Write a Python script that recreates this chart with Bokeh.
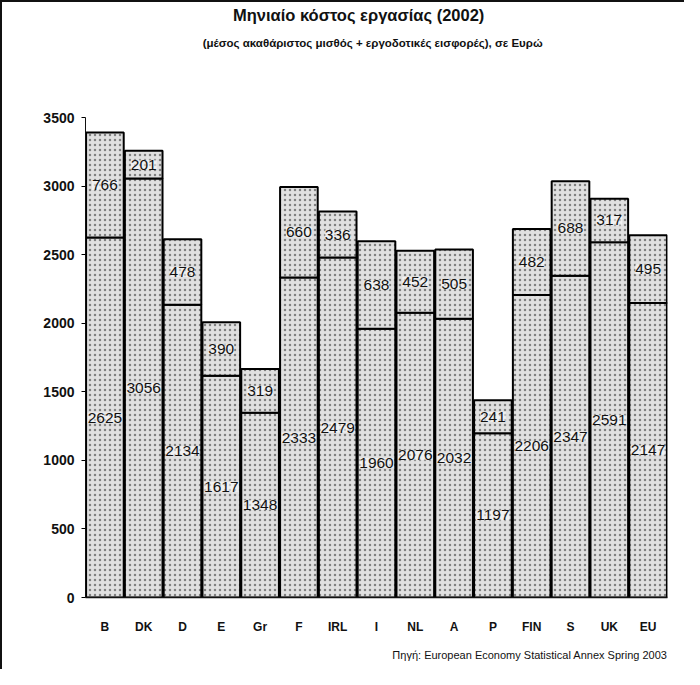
from bokeh.plotting import figure
from bokeh.models import FactorRange, Range1d, ColumnDataSource, Title, FixedTicker
from bokeh.core.properties import value
from bokeh.embed import file_html
from bokeh.resources import INLINE

countries = ["B", "DK", "D", "E", "Gr", "F", "IRL", "I", "NL", "A", "P", "FIN", "S", "UK", "EU"]
gross_wage = [2625, 3056, 2134, 1617, 1348, 2333, 2479, 1960, 2076, 2032, 1197, 2206, 2347, 2591, 2147]
employer_contrib = [766, 201, 478, 390, 319, 660, 336, 638, 452, 505, 241, 482, 688, 317, 495]
y_ticks = [0, 500, 1000, 1500, 2000, 2500, 3000, 3500]

title_text = "Μηνιαίο κόστος εργασίας (2002)"
subtitle_text = "(μέσος ακαθάριστος μισθός + εργοδοτικές εισφορές), σε Ευρώ"
source_text = "Πηγή: European Economy Statistical Annex Spring 2003"

total = [w + c for w, c in zip(gross_wage, employer_contrib)]
src = ColumnDataSource(dict(
    c=countries,
    wage=gross_wage,
    extra=employer_contrib,
    total=total,
    wage_mid=[w / 2 for w in gross_wage],
    extra_mid=[w + c / 2 for w, c in zip(gross_wage, employer_contrib)],
    wage_lbl=[str(w) for w in gross_wage],
    extra_lbl=[str(c) for c in employer_contrib],
))

FONT = "Liberation Sans"

p = figure(x_range=FactorRange(factors=countries, range_padding=0),
           y_range=Range1d(0, 4339),
           width=684, height=669, output_backend="svg", toolbar_location=None,
           min_border_left=83, min_border_right=19, min_border_top=0, min_border_bottom=74)
p.styles = {"border-left": "2px solid #111", "border-top": "2px solid #111"}

common = dict(width=0.97, fill_color="#e0e0e0", line_color="black", line_width=2,
              hatch_pattern="dot", hatch_color="#808080", hatch_scale=5, hatch_weight=1.2)
p.vbar(x="c", bottom=0, top="wage", source=src, **common)
p.vbar(x="c", bottom="wage", top="total", source=src, **common)

lbl = dict(text_font=value(FONT), text_font_size="15.5px", text_color="#111",
           text_align="center", text_baseline="middle",
           background_fill_color="white", background_fill_alpha=0.55)
p.text(x="c", y="wage_mid", text="wage_lbl", source=src, **lbl)
p.text(x="c", y="extra_mid", text="extra_lbl", source=src, **lbl)

p.text(x=[7.04], y=[4251], text=[title_text], text_font=value(FONT), text_font_size="16.5px",
       text_font_style="bold", text_align="center", text_baseline="middle", text_color="#111")
p.text(x=[7.40], y=[4047], text=[subtitle_text], text_font=value(FONT), text_font_size="11.5px",
       text_font_style="bold", text_align="center", text_baseline="middle", text_color="#111")

p.add_layout(Title(text=source_text, align="right", text_font=FONT, text_font_size="11px",
                   text_font_style="normal", text_color="#111", standoff=21), "below")

p.xgrid.grid_line_color = None
p.ygrid.grid_line_color = None
p.outline_line_color = None

p.yaxis.bounds = (0, 3500)
p.yaxis.ticker = FixedTicker(ticks=y_ticks)
p.yaxis.minor_tick_line_color = None
p.yaxis.major_tick_out = 4
p.yaxis.major_tick_in = 0
p.yaxis.major_label_standoff = 7
p.yaxis.major_label_text_font = FONT
p.yaxis.major_label_text_font_style = "bold"
p.yaxis.major_label_text_font_size = "14px"
p.yaxis.major_label_text_color = "#111"
p.yaxis.axis_line_color = "#111"

p.xaxis.axis_line_width = 1.5
p.xaxis.axis_line_color = "#111"
p.xaxis.major_tick_line_color = None
p.xaxis.major_label_standoff = 16
p.xaxis.major_label_text_font = FONT
p.xaxis.major_label_text_font_style = "bold"
p.xaxis.major_label_text_font_size = "12px"
p.xaxis.major_label_text_color = "#111"

open("out.html", "w").write(file_html(p, INLINE))
